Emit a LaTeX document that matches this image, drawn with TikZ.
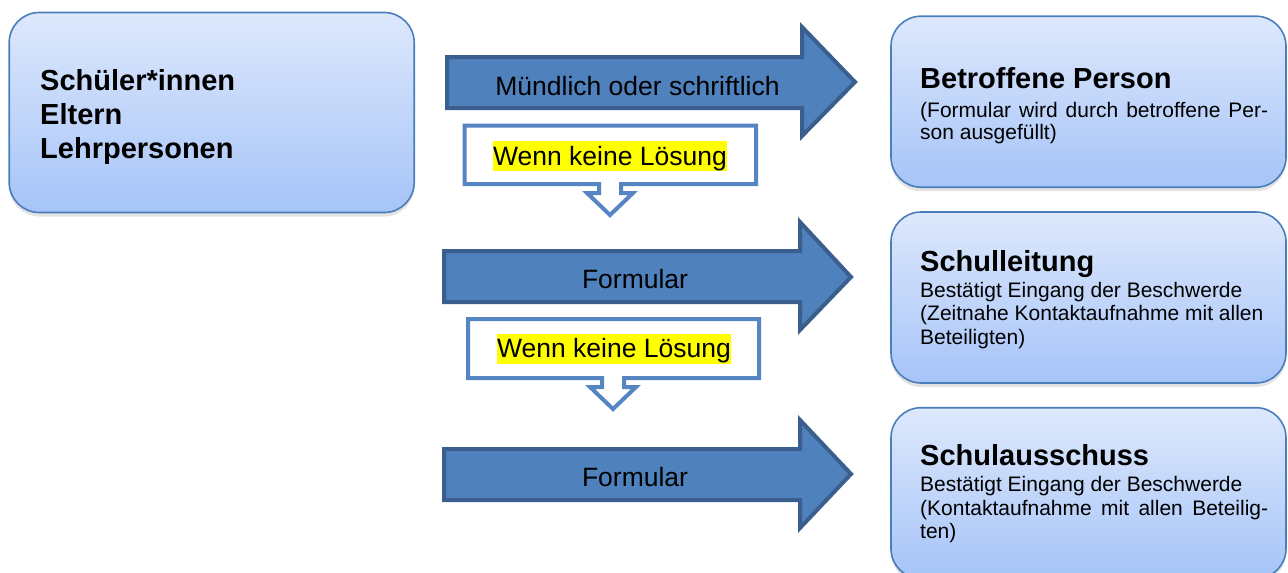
\documentclass[tikz,border=0pt]{standalone}
\usepackage{fontspec}
\setmainfont{Liberation Sans}
\usetikzlibrary{shadows}
\definecolor{arrowfill}{HTML}{4F81BD}
\definecolor{arrowline}{HTML}{3A5F8E}
\definecolor{boxline}{HTML}{4A7EBB}
\definecolor{boxtop}{HTML}{DDE8FC}
\definecolor{boxbot}{HTML}{A6C4F8}
\definecolor{calloutline}{HTML}{5585C2}
\definecolor{hl}{HTML}{FFFF00}
\begin{document}
\begin{tikzpicture}[x=1pt,y=-1pt,
  gbox/.style={draw=boxline, line width=1.6pt, rounded corners=30pt, top color=boxtop, bottom color=boxbot,
    drop shadow={shadow xshift=0pt, shadow yshift=-4pt, opacity=0.22}, inner sep=0pt},
  bigarrow/.style={fill=arrowfill, draw=arrowline, line width=4pt, line join=miter},
  callout/.style={fill=white, draw=calloutline, line width=4pt, line join=miter},
  head/.style={font=\fontsize{29}{34}\selectfont\bfseries, anchor=base west, inner sep=0pt},
  body/.style={font=\fontsize{21}{23}\selectfont, anchor=base west, inner sep=0pt},
  atext/.style={font=\fontsize{26.5}{30}\selectfont, anchor=base, inner sep=0pt},
  hltext/.style={font=\fontsize{26.5}{30}\selectfont, anchor=base, fill=hl, inner sep=0pt, text height=24pt, text depth=6pt}
]
\useasboundingbox (0,0) rectangle (1288,573);
\clip (0,0) rectangle (1288,573);

% boxes
\node[gbox, minimum width=405pt, minimum height=200pt] (src) at (211.7,112.5) {};
\node[gbox, minimum width=395pt, minimum height=171pt] (bp) at (1088.5,101.7) {};
\node[gbox, minimum width=395pt, minimum height=171pt] (sl) at (1088.5,297.5) {};
\node[gbox, minimum width=395pt, minimum height=171pt] (sa) at (1088.5,493.2) {};

% left box text
\node[head] (s1) at (40,90.7) {Schüler*innen};
\node[head] (s2) at (40,124) {Eltern};
\node[head] (s3) at (40,158) {Lehrpersonen};

% right box texts
\node[head] (bph) at (920,88.3) {Betroffene Person};
\node[body] (bp1) at (920,117) {\makebox[348pt][s]{(Formular wird durch betroffene Per-}};
\node[body] (bp2) at (920,139.5) {son ausgefüllt)};

\node[head] (slh) at (920,271.7) {Schulleitung};
\node[body] (sl1) at (920,297.7) {Bestätigt Eingang der Beschwerde};
\node[body] (sl2) at (920,320.7) {(Zeitnahe Kontaktaufnahme mit allen};
\node[body] (sl3) at (920,344) {Beteiligten)};

\node[head] (sah) at (920,465.7) {Schulausschuss};
\node[body] (sa1) at (920,491.7) {Bestätigt Eingang der Beschwerde};
\node[body] (sa2) at (920,515) {\makebox[348pt][s]{(Kontaktaufnahme mit allen Beteilig-}};
\node[body] (sa3) at (920,538) {ten)};

% big arrows
\path[bigarrow] (447,57) -- (802,57) -- (802,27) -- (855,82) -- (802,136) -- (802,108) -- (447,108) -- cycle;
\path[bigarrow] (444,251) -- (800,251) -- (800,222) -- (851,277) -- (800,330) -- (800,302) -- (444,302) -- cycle;
\path[bigarrow] (444,449) -- (800,449) -- (800,420) -- (851,474) -- (800,528) -- (800,500) -- (444,500) -- cycle;

\node[atext] (t1) at (637.5,95) {Mündlich oder schriftlich};
\node[atext] (t2) at (635,288) {Formular};
\node[atext] (t3) at (635,486) {Formular};

% callouts
\path[callout] (464.5,125.5) -- (756,125.5) -- (756,184) -- (621,184) -- (621,193) -- (633,193) -- (610,215)
  -- (587,193) -- (599,193) -- (599,184) -- (464.5,184) -- cycle;
\path[callout] (468,319) -- (759,319) -- (759,378) -- (624,378) -- (624,387) -- (636,387) -- (613,409)
  -- (590,387) -- (602,387) -- (602,378) -- (468,378) -- cycle;

\node[hltext] (w1) at (610,165) {Wenn keine Lösung};
\node[hltext] (w2) at (614,357.5) {Wenn keine Lösung};
\end{tikzpicture}
\end{document}
